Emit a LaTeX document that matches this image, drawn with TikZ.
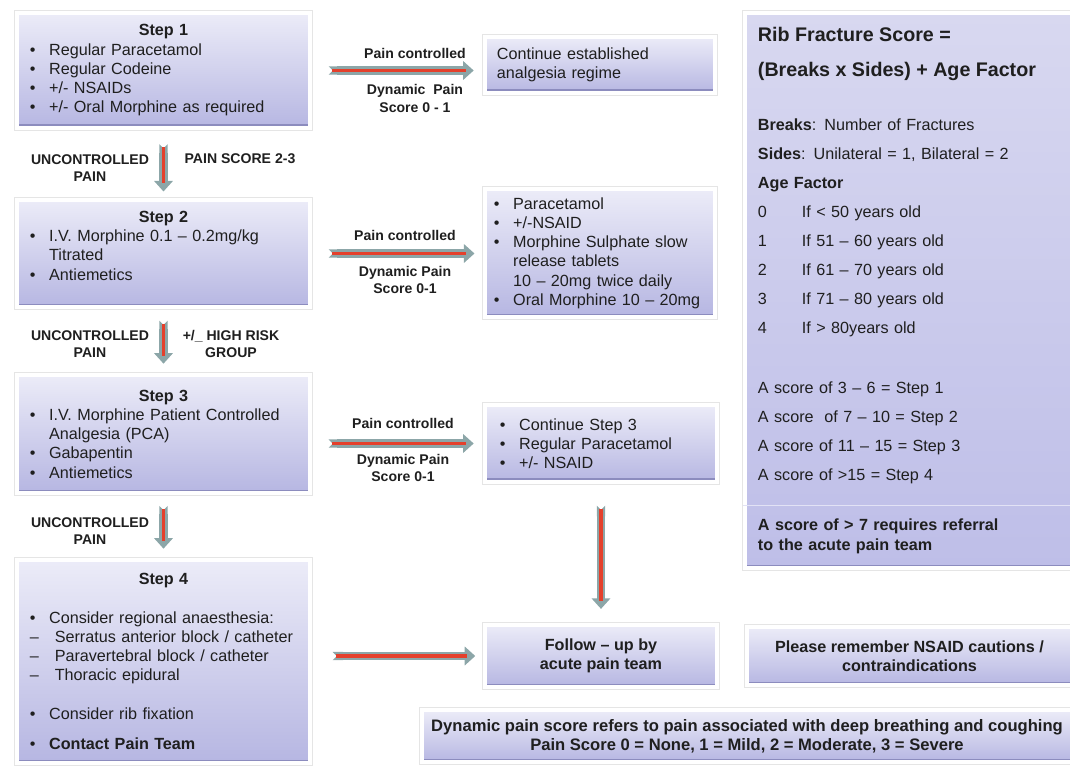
\documentclass[tikz,border=0pt]{standalone}
\usepackage{fontspec}
\setmainfont{Liberation Sans}
\usepackage{xcolor}
\usepackage{tikz}
\usetikzlibrary{arrows.meta,calc,shadows}
\definecolor{boxtop}{RGB}{236,236,248}
\definecolor{boxbot}{RGB}{182,182,226}
\definecolor{boxedge}{RGB}{140,140,190}
\definecolor{rftop}{RGB}{216,216,240}
\definecolor{rfbot}{RGB}{190,190,232}
\definecolor{arrowgray}{RGB}{140,166,168}
\definecolor{painred}{RGB}{228,64,44}
\newcommand{\itm}{\makebox[0.48cm][l]{\textbullet}}
\newcommand{\dsh}{\makebox[0.62cm][l]{–}}
\newcommand{\ind}{\hspace*{0.48cm}}
\newcommand{\head}[1]{\makebox[\linewidth]{\textbf{#1}}}
\newcommand{\rftitle}[1]{{\fontsize{14}{20.6}\selectfont\bfseries #1}}
\newcommand{\agerow}[2]{\makebox[1.1cm][l]{#1}#2}

\begin{document}
\begin{tikzpicture}[x=0.025cm,y=-0.025cm,
  every node/.style={text=black!88},
  box/.style={draw=white,line width=2.4pt,top color=boxtop,bottom color=boxbot,
    preaction={draw=black!10,line width=3.6pt},
    drop shadow={shadow xshift=0.8pt,shadow yshift=-1.2pt,opacity=0.25},
    inner sep=0pt,align=left,font={\fontsize{11.5}{13.7}\selectfont},
    path picture={\fill[boxedge] (path picture bounding box.south west) rectangle ([yshift=2.5pt]path picture bounding box.south east);}},
  boxc/.style={box,align=center,font={\fontsize{11.5}{13.7}\selectfont\bfseries}},
  rfbox/.style={box,top color=rftop,bottom color=rfbot,font={\fontsize{11.5}{20.6}\selectfont}},
  lbl/.style={inner sep=0pt,align=center,font={\fontsize{10}{12.3}\selectfont\bfseries}},
  fat/.style={draw=arrowgray,line width=6pt,{Triangle Cap[reversed]}-{Triangle[width=13pt,length=7.5pt]}},
  core/.style={draw=painred,line width=2.8pt}]
 \clip (0,0) rectangle (1070,768);
 % left column: the four steps
 \node[box,minimum width=7.325cm,minimum height=2.875cm,text width=6.675cm] (s1) at (163.5,70.5)
   {\head{Step 1}\\ \itm Regular Paracetamol\\ \itm Regular Codeine\\ \itm +/- NSAIDs\\ \itm +/- Oral Morphine as required};
 \node[box,minimum width=7.325cm,minimum height=2.675cm,text width=6.675cm] (s2) at (163.5,253.5)
   {\head{Step 2}\\ \itm I.V.\ Morphine 0.1 – 0.2mg/kg\\ \ind Titrated\\ \itm Antiemetics\rule[-0.4cm]{0pt}{0.4cm}};
 \node[box,minimum width=7.325cm,minimum height=2.95cm,text width=6.675cm] (s3) at (163.5,434)
   {\head{Step 3}\\ \itm I.V.\ Morphine Patient Controlled\\ \ind Analgesia (PCA)\\ \itm Gabapentin\\ \itm Antiemetics};
 \node[box,minimum width=7.325cm,minimum height=5.075cm,text width=6.675cm] (s4) at (163.5,661.5)
   {\head{Step 4}\\[14pt] \itm Consider regional anaesthesia:\\ \dsh Serratus anterior block / catheter\\
    \dsh Paravertebral block / catheter\\ \dsh Thoracic epidural\\[14pt] \itm Consider rib fixation\\[7.6pt]
    \itm \textbf{Contact Pain Team}};
 % middle column
 \node[box,minimum width=5.75cm,minimum height=1.4cm,text width=5.15cm] (r1) at (600,65)
   {Continue established\\analgesia regime};
 \node[box,minimum width=5.75cm,minimum height=3.2cm,text width=5.3cm] (r2) at (600,253)
   {\itm Paracetamol\\ \itm +/-NSAID\\ \itm Morphine Sulphate slow\\ \ind release tablets\\
    \ind 10 – 20mg twice daily\\ \itm Oral Morphine 10 – 20mg};
 \node[box,minimum width=5.8cm,minimum height=1.925cm,text width=5.05cm] (r3) at (601,443.5)
   {\itm Continue Step 3\\ \itm Regular Paracetamol\\ \itm +/- NSAID};
 \node[boxc,minimum width=5.8cm,minimum height=1.55cm] (fu) at (601,656) {Follow – up by\\acute pain team};
 % right column
 \node[rfbox,minimum width=8.175cm,minimum height=13.875cm,text width=7.525cm] (rf) at (908.5,290.5)
   {\rftitle{Rib Fracture Score =}\\[4.3pt]
    \rftitle{(Breaks x Sides) + Age Factor}\\[17.8pt]
    \textbf{Breaks}: Number of Fractures\\
    \textbf{Sides}: Unilateral = 1, Bilateral = 2\\
    \textbf{Age Factor}\\
    \agerow{0}{If < 50 years old}\\
    \agerow{1}{If 51 – 60 years old}\\
    \agerow{2}{If 61 – 70 years old}\\
    \agerow{3}{If 71 – 80 years old}\\
    \agerow{4}{If > 80years old}\\[22.1pt]
    A score of 3 – 6 = Step 1\\
    A score\ \ of 7 – 10 = Step 2\\
    A score of 11 – 15 = Step 3\\
    A score of >15 = Step 4\\[15pt]
    \textbf{A score of > 7 requires referral}\\[-6.4pt]
    \textbf{to the acute pain team}};
 \draw[white!55!rfbot,line width=0.7pt] ([yshift=-12.35cm]rf.north west) -- ([yshift=-12.35cm]rf.north east);
 \node[boxc,minimum width=8.125cm,minimum height=1.45cm] (ns) at (909.5,656)
   {Please remember NSAID cautions /\\contraindications};
 \node[boxc,minimum width=16.25cm,minimum height=1.3cm,font={\fontsize{11.8}{13.6}\selectfont\bfseries}] (dp) at (747,736)
   {Dynamic pain score refers to pain associated with deep breathing and coughing\\
    Pain Score 0 = None, 1 = Mild, 2 = Moderate, 3 = Severe};
 % arrow labels
 \node[lbl] (u1) at (90,168) {UNCONTROLLED\\PAIN};
 \node[lbl] (p1) at (240,159) {PAIN SCORE 2-3};
 \node[lbl] (u2) at (90,344) {UNCONTROLLED\\PAIN};
 \node[lbl] (g2) at (231,344) {+/\_ HIGH RISK\\GROUP};
 \node[lbl] (u3) at (90,531) {UNCONTROLLED\\PAIN};
 \node[lbl] (c1) at (415,53) {Pain controlled};
 \node[lbl] (d1) at (415,98.5) {Dynamic~ Pain\\Score 0 - 1};
 \node[lbl] (c2) at (405,235) {Pain controlled};
 \node[lbl] (d2) at (405,280) {Dynamic Pain\\Score 0-1};
 \node[lbl] (c3) at (403,423) {Pain controlled};
 \node[lbl] (d3) at (403,468) {Dynamic Pain\\Score 0-1};
 % arrows
 \foreach \na/\nb/\sha/\shb in {s1.south/s2.north/0.36cm/0.17cm,
     s2.south/s3.north/0.3cm/0.24cm,
     s3.south/s4.north/0.28cm/0.24cm,
     s1.east/s1.east -| r1.west/0.42cm/0.24cm,
     s2.east/s2.east -| r2.west/0.42cm/0.22cm,
     r3.west -| s3.east/r3.west/0.42cm/0.24cm,
     fu.west -| s4.east/fu.west/0.52cm/0.2cm,
     r3.south/fu.north/0.55cm/0.36cm}
 {
   \draw[fat,shorten <=\sha,shorten >=\shb] (\na) -- (\nb);
   \draw[core,shorten <=\sha+0.08cm,shorten >=\shb+0.2cm] (\na) -- (\nb);
 }
\end{tikzpicture}
\end{document}
